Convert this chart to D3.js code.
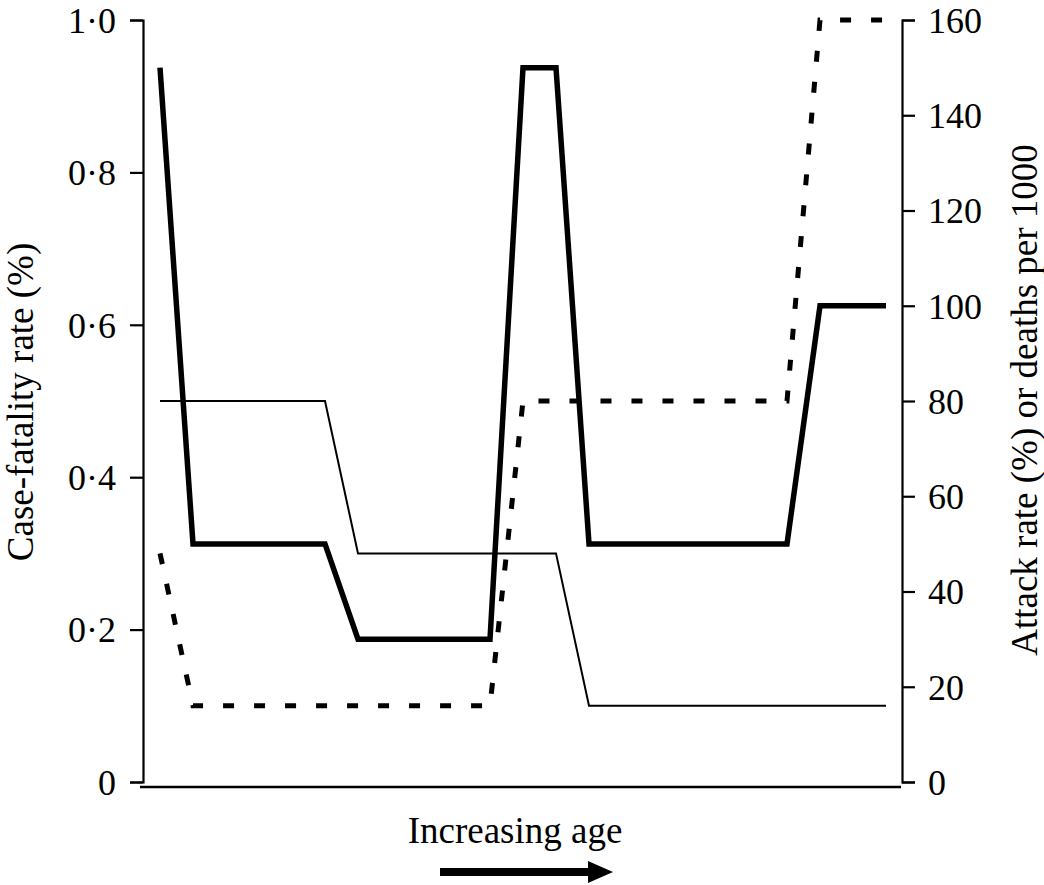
<!DOCTYPE html>
<html>
<head>
<meta charset="utf-8">
<script src="https://cdn.jsdelivr.net/npm/d3@7"></script>
<style>
    html, body { margin: 0; padding: 0; background: #fff; }
    svg text { font-family: 'Liberation Serif', 'DejaVu Serif', serif; fill: #000; }
</style>
</head>
<body>
<div id="chart"></div>
<script>
// age steps along the x axis (no labels in the figure, only "Increasing age")
var ageSteps = [0, 1, 5, 6, 10, 11, 12, 13, 19, 20, 22];

// case-fatality rate (%), left axis - thin line
var caseFatality = [0.5, 0.5, 0.5, 0.3, 0.3, 0.3, 0.3, 0.1, 0.1, 0.1, 0.1];
// deaths per 1000, right axis - thick line
var deathsPer1000 = [150, 50, 50, 30, 30, 150, 150, 50, 50, 100, 100];
// attack rate (%), right axis - dashed line
var attackRate = [48, 16, 16, 16, 16, 80, 80, 80, 80, 160, 160];

var leftTicks = [0, 0.2, 0.4, 0.6, 0.8, 1.0];
var rightTicks = [0, 20, 40, 60, 80, 100, 120, 140, 160];

var width = 1044, height = 885;

var svg = d3.select('#chart').append('svg')
    .attr('width', width)
    .attr('height', height);

var x = d3.scaleLinear().domain([0, 22]).range([160, 886]);
var yLeft = d3.scaleLinear().domain([0, 1]).range([782, 20]);
var yRight = d3.scaleLinear().domain([0, 160]).range([782, 20]);

function fmtLeft(d) {
    return d === 0 ? '0' : d3.format('.1f')(d).replace('.', '\u00b7');
}

/* axes */
var leftAxis = svg.append('g')
    .attr('transform', 'translate(143,0)')
    .call(d3.axisLeft(yLeft).tickValues(leftTicks).tickFormat(fmtLeft).tickSize(13).tickPadding(14));

var rightAxis = svg.append('g')
    .attr('transform', 'translate(902,0)')
    .call(d3.axisRight(yRight).tickValues(rightTicks).tickSize(13).tickPadding(13));

[leftAxis, rightAxis].forEach(function(ax) {
    ax.selectAll('path, line').attr('stroke', '#000').attr('stroke-width', 2.2);
    ax.selectAll('text')
        .attr('font-size', 36)
        .attr('dy', '0.34em')
        .style('font-family', "'Liberation Serif', serif");
});

// bottom baseline, no ticks
svg.append('line')
    .attr('x1', 140).attr('x2', 901)
    .attr('y1', 787).attr('y2', 787)
    .attr('stroke', '#000')
    .attr('stroke-width', 2.5);

/* series */
function lineFor(values, scale) {
    return d3.line()
        .x(function(d, i) { return x(ageSteps[i]); })
        .y(function(d) { return scale(d); })(values);
}

svg.append('path')
    .attr('d', lineFor(caseFatality, yLeft))
    .attr('fill', 'none')
    .attr('stroke', '#000')
    .attr('stroke-width', 2);

svg.append('path')
    .attr('d', lineFor(attackRate, yRight))
    .attr('fill', 'none')
    .attr('stroke', '#000')
    .attr('stroke-width', 5)
    .attr('stroke-dasharray', '11,20');

svg.append('path')
    .attr('d', lineFor(deathsPer1000, yRight))
    .attr('fill', 'none')
    .attr('stroke', '#000')
    .attr('stroke-width', 5.5)
    .attr('stroke-linejoin', 'miter');

/* axis titles */
svg.append('text')
    .attr('transform', 'translate(33,402) rotate(-90)')
    .attr('text-anchor', 'middle')
    .attr('font-size', 37)
    .text('Case-fatality rate (%)');

svg.append('text')
    .attr('transform', 'translate(1037,400) rotate(-90)')
    .attr('text-anchor', 'middle')
    .attr('font-size', 37)
    .text('Attack rate (%) or deaths per 1000');

svg.append('text')
    .attr('x', 515)
    .attr('y', 843)
    .attr('text-anchor', 'middle')
    .attr('font-size', 37)
    .text('Increasing age');

// arrow under the x title
svg.append('path')
    .attr('d', 'M440,868H588V861L613,872L588,883V876H440Z')
    .attr('fill', '#000');
</script>
</body>
</html>
